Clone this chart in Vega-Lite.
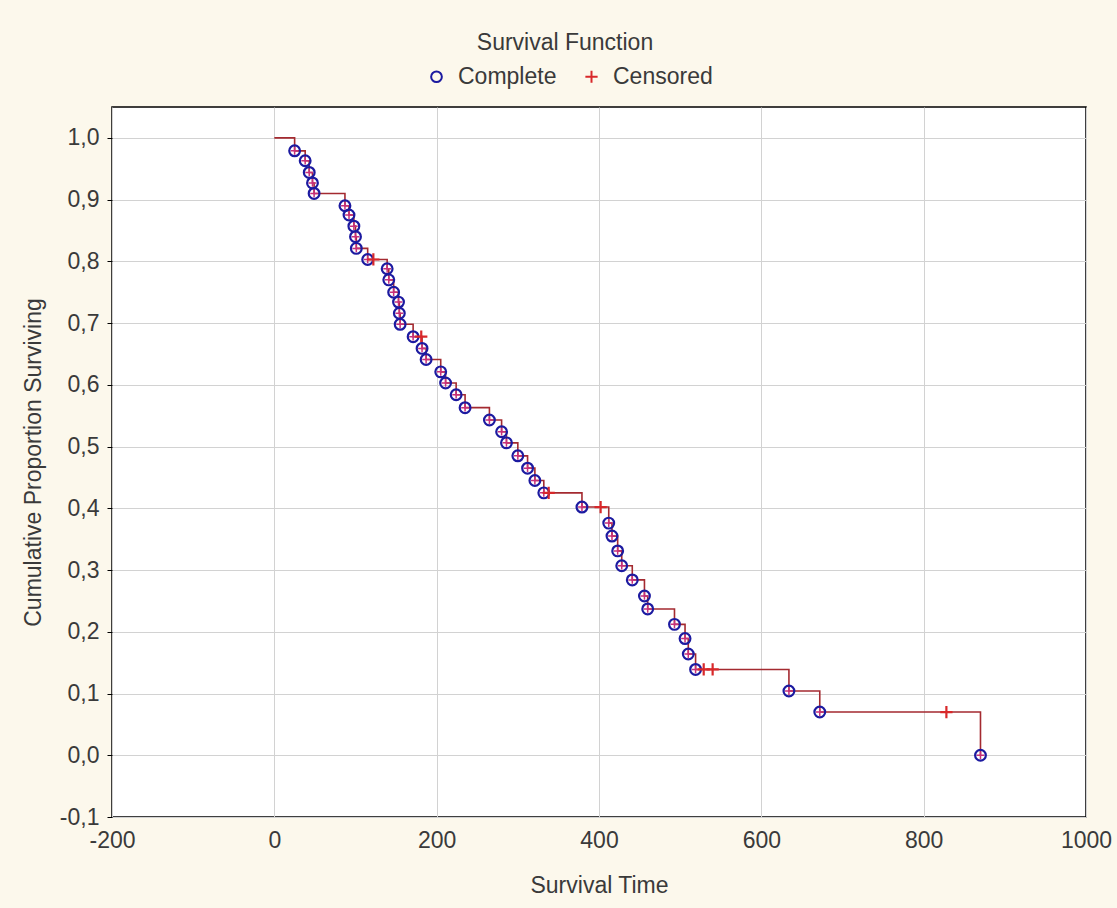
{
  "$schema": "https://vega.github.io/schema/vega-lite/v6.json",
  "autosize": {"type": "none"},
  "width": 974,
  "height": 710,
  "padding": {"left": 112, "top": 107, "right": 31, "bottom": 91},
  "background": "#fcf8ec",
  "config": {
    "font": "Liberation Sans",
    "view": {"fill": "#ffffff", "stroke": "#000000", "strokeWidth": 1.5},
    "axis": {"gridColor": "#d2d2d2", "gridWidth": 1, "domain": false, "labelFont": "Liberation Sans", "titleFont": "Liberation Sans", "labelFontSize": 23, "titleFontSize": 23, "labelColor": "#3a3a3a", "titleColor": "#3a3a3a", "titleFontWeight": "normal", "tickColor": "#000000"}
  },
  "title": {"text": "Survival Function", "font": "Liberation Sans", "fontSize": 23, "fontWeight": "normal", "color": "#3a3a3a", "anchor": "middle", "dx": -34, "offset": 10},
  "data": {"values": [
    {"t": 0, "s": 1.0, "status": "Start"},
    {"t": 25, "s": 0.979, "status": "Complete"},
    {"t": 38, "s": 0.963, "status": "Complete"},
    {"t": 43, "s": 0.944, "status": "Complete"},
    {"t": 47, "s": 0.927, "status": "Complete"},
    {"t": 49, "s": 0.910, "status": "Complete"},
    {"t": 87, "s": 0.890, "status": "Complete"},
    {"t": 92, "s": 0.875, "status": "Complete"},
    {"t": 98, "s": 0.857, "status": "Complete"},
    {"t": 100, "s": 0.840, "status": "Complete"},
    {"t": 101, "s": 0.821, "status": "Complete"},
    {"t": 115, "s": 0.803, "status": "Complete"},
    {"t": 122, "s": 0.803, "status": "Censored"},
    {"t": 139, "s": 0.788, "status": "Complete"},
    {"t": 141, "s": 0.770, "status": "Complete"},
    {"t": 147, "s": 0.750, "status": "Complete"},
    {"t": 153, "s": 0.734, "status": "Complete"},
    {"t": 154, "s": 0.716, "status": "Complete"},
    {"t": 155, "s": 0.698, "status": "Complete"},
    {"t": 171, "s": 0.678, "status": "Complete"},
    {"t": 181, "s": 0.678, "status": "Censored"},
    {"t": 182, "s": 0.659, "status": "Complete"},
    {"t": 187, "s": 0.641, "status": "Complete"},
    {"t": 205, "s": 0.621, "status": "Complete"},
    {"t": 211, "s": 0.603, "status": "Complete"},
    {"t": 224, "s": 0.584, "status": "Complete"},
    {"t": 235, "s": 0.563, "status": "Complete"},
    {"t": 265, "s": 0.543, "status": "Complete"},
    {"t": 280, "s": 0.524, "status": "Complete"},
    {"t": 286, "s": 0.506, "status": "Complete"},
    {"t": 300, "s": 0.485, "status": "Complete"},
    {"t": 312, "s": 0.465, "status": "Complete"},
    {"t": 321, "s": 0.445, "status": "Complete"},
    {"t": 332, "s": 0.425, "status": "Complete"},
    {"t": 338, "s": 0.425, "status": "Censored"},
    {"t": 379, "s": 0.402, "status": "Complete"},
    {"t": 402, "s": 0.402, "status": "Censored"},
    {"t": 412, "s": 0.376, "status": "Complete"},
    {"t": 416, "s": 0.355, "status": "Complete"},
    {"t": 423, "s": 0.331, "status": "Complete"},
    {"t": 428, "s": 0.307, "status": "Complete"},
    {"t": 441, "s": 0.284, "status": "Complete"},
    {"t": 456, "s": 0.258, "status": "Complete"},
    {"t": 460, "s": 0.237, "status": "Complete"},
    {"t": 493, "s": 0.212, "status": "Complete"},
    {"t": 506, "s": 0.189, "status": "Complete"},
    {"t": 510, "s": 0.164, "status": "Complete"},
    {"t": 519, "s": 0.139, "status": "Complete"},
    {"t": 529, "s": 0.139, "status": "Censored"},
    {"t": 540, "s": 0.139, "status": "Censored"},
    {"t": 634, "s": 0.104, "status": "Complete"},
    {"t": 672, "s": 0.070, "status": "Complete"},
    {"t": 828, "s": 0.070, "status": "Censored"},
    {"t": 870, "s": 0.0, "status": "Complete"}
  ]},
  "encoding": {
    "x": {"field": "t", "type": "quantitative", "scale": {"domain": [-200, 1000], "nice": false, "zero": false},
      "axis": {"title": "Survival Time", "values": [-200, 0, 200, 400, 600, 800, 1000], "labelExpr": "'' + datum.value", "tickSize": 0, "labelPadding": 12, "titlePadding": 22, "labelFlush": false}},
    "y": {"field": "s", "type": "quantitative", "scale": {"domain": [-0.1, 1.05], "nice": false, "zero": false},
      "axis": {"title": "Cumulative Proportion Surviving", "values": [-0.1, 0, 0.1, 0.2, 0.3, 0.4, 0.5, 0.6, 0.7, 0.8, 0.9, 1.0], "labelExpr": "replace(replace(format(datum.value, '.1f'), '.', ','), '\u2212', '-')", "tickSize": 5, "labelPadding": 8, "titlePadding": 14}}
  },
  "layer": [
    {
      "mark": {"type": "line", "interpolate": "step-after", "color": "#a42a30", "strokeWidth": 1.6},
      "encoding": {"order": {"field": "t", "type": "quantitative"}}
    },
    {
      "transform": [{"filter": "datum.status === 'Complete'"}],
      "mark": {"type": "point", "shape": "M-1,0L1,0M0,-1L0,1", "filled": false, "color": "#c8307a", "size": 60, "strokeWidth": 1.5, "opacity": 1}
    },
    {
      "transform": [{"filter": "datum.status !== 'Start'"}],
      "mark": {"type": "point", "filled": false, "strokeWidth": 2.2, "opacity": 1},
      "encoding": {
        "shape": {"field": "status", "type": "nominal", "scale": {"domain": ["Complete", "Censored"], "range": ["circle", "M-1,0L1,0M0,-1L0,1"]},
          "legend": {"title": null, "orient": "none", "direction": "horizontal", "legendX": 313, "legendY": -42, "labelFontSize": 23, "labelColor": "#3a3a3a", "labelFont": "Liberation Sans", "columnPadding": 23, "symbolStrokeWidth": 2, "labelOffset": 10, "padding": 0}},
        "color": {"field": "status", "type": "nominal", "scale": {"domain": ["Complete", "Censored"], "range": ["#1c1aa0", "#d8282a"]}},
        "size": {"field": "status", "type": "nominal", "scale": {"domain": ["Complete", "Censored"], "range": [115, 150]}}
      }
    }
  ]
}
